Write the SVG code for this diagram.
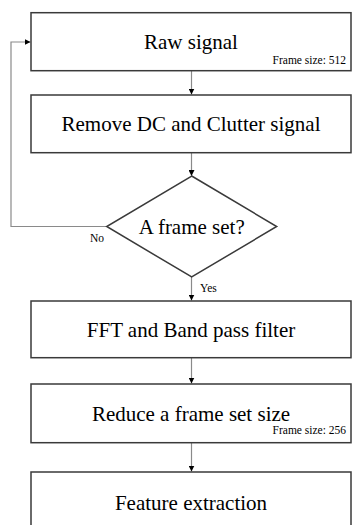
<svg xmlns="http://www.w3.org/2000/svg" width="353" height="525" viewBox="0 0 353 525">
<style>
.box{fill:#fff;stroke:#3a3a3a;stroke-width:1.5}
.t{font-family:"Liberation Serif","Times New Roman",serif;font-size:21px;fill:#000;text-anchor:middle}
.s{font-family:"Liberation Serif","Times New Roman",serif;font-size:11.5px;fill:#000}
.c{fill:none;stroke:#8a8a8a;stroke-width:1.2}
</style>
<defs>
<marker id="ah" viewBox="0 0 10 10" refX="10" refY="5" markerWidth="6" markerHeight="6" markerUnits="userSpaceOnUse" orient="auto">
<path d="M0,0 L10,5 L0,10 Z" fill="#000"/>
</marker>
</defs>
<rect width="353" height="525" fill="#fff"/>
<g id="connectors">
<path class="c" d="M191.5,70.7 V94.5" marker-end="url(#ah)"/>
<path class="c" d="M191.5,152.7 V176" marker-end="url(#ah)"/>
<path class="c" d="M106.7,226.5 H11 V42 H30.5" marker-end="url(#ah)"/>
<path class="c" d="M191.5,277 V300.5" marker-end="url(#ah)"/>
<path class="c" d="M191.5,357.7 V383.5" marker-end="url(#ah)"/>
<path class="c" d="M191.5,442.7 V471.5" marker-end="url(#ah)"/>
<text class="s" x="90" y="242">No</text>
<text class="s" x="200" y="291.5">Yes</text>
</g>
<g id="raw">
<rect class="box" x="31" y="12.7" width="320" height="58"/>
<text class="t" x="191" y="49">Raw signal</text>
<text class="s" x="346" y="64" text-anchor="end">Frame size: 512</text>
</g>
<g id="remove">
<rect class="box" x="31" y="95" width="320" height="57.7"/>
<text class="t" x="191" y="131">Remove DC and Clutter signal</text>
</g>
<g id="decision">
<polygon class="box" points="191.7,176 276.7,226.5 191.7,277 106.7,226.5"/>
<text class="t" x="191.7" y="233.5">A frame set?</text>
</g>
<g id="fft">
<rect class="box" x="31" y="301" width="320" height="56.7"/>
<text class="t" x="191" y="336.5">FFT and Band pass filter</text>
</g>
<g id="reduce">
<rect class="box" x="31" y="384" width="320" height="58.7"/>
<text class="t" x="191" y="420.5">Reduce a frame set size</text>
<text class="s" x="346" y="434" text-anchor="end">Frame size: 256</text>
</g>
<g id="feature">
<rect class="box" x="31" y="472" width="320" height="62"/>
<text class="t" x="191" y="510">Feature extraction</text>
</g>
</svg>
